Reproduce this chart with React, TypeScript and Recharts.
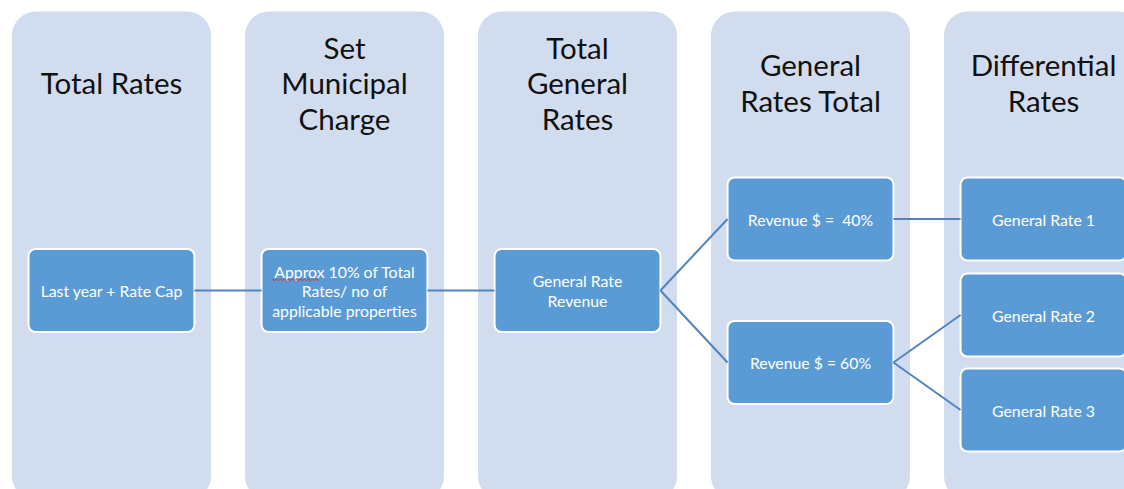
import { ComposedChart, ReferenceArea, ReferenceLine, Scatter, XAxis, YAxis } from "recharts";

// Column headers (one entry per swim-lane)
const headers = [
  ["Total Rates"],
  ["Set", "Municipal", "Charge"],
  ["Total", "General", "Rates"],
  ["General", "Rates Total"],
  ["Differential", "Rates"],
];
const columns = [0, 1, 2, 3, 4];

// Nodes: label lines, lane index, vertical centre (y units)
const nodeLabels = [
  ["Last year + Rate Cap"],
  ["Approx 10% of Total", "Rates/ no of", "applicable properties"],
  ["General Rate", "Revenue"],
  ["Revenue $ =  40%"],
  ["Revenue $ = 60%"],
  ["General Rate 1"],
  ["General Rate 2"],
  ["General Rate 3"],
];
const nodeCols = [0, 1, 2, 3, 3, 4, 4, 4];
const nodeRows = [290.5, 290.5, 290.5, 219, 362.5, 219, 315, 410];

// Connectors between nodes
const edgeFrom = [0, 1, 2, 2, 3, 4, 4];
const edgeTo = [1, 2, 3, 4, 5, 6, 7];

const W = 1124;
const H = 489;
const X_DOMAIN: [number, number] = [-0.4785, 4.3455];

const PANEL_HALF = 0.427;
const PANEL_TOP = 11.5;
const PANEL_BOTTOM = 500;
const BOX_HALF_W = 0.356;
const BOX_HALF_H = 41.5;

const PANEL_FILL = "#d1ddee";
const BOX_FILL = "#5b9bd5";
const LINE_COLOR = "#5283bf";
const FONT = "Lato, 'Open Sans', sans-serif";

const nodes = nodeLabels.map((label, i) => ({ x: nodeCols[i], y: nodeRows[i], label }));

function panelShape(lines: string[]) {
  return (p: any) => {
    const cx = p.x + p.width / 2;
    const lh = 35.5;
    const y0 = p.y + 71 - ((lines.length - 1) * lh) / 2;
    return (
      <g>
        <rect x={p.x} y={p.y} width={p.width} height={p.height} rx={24} ry={24} fill={PANEL_FILL} />
        <text textAnchor="middle" fontFamily={FONT} fontSize={29.5} fill="#111">
          {lines.map((t, k) => (
            <tspan key={k} x={cx} y={y0 + k * lh} dominantBaseline="central">
              {t}
            </tspan>
          ))}
        </text>
      </g>
    );
  };
}

// little spell-check squiggle under "Approx"
function squiggle(x0: number, x1: number, y: number) {
  let d = `M${x0},${y}`;
  for (let x = x0, k = 0; x < x1; x += 2, k++) d += ` L${x + 2},${k % 2 ? y : y + 1.6}`;
  return <path d={d} fill="none" stroke="#e02020" strokeWidth={0.9} />;
}

function boxShape(lines: string[]) {
  return (p: any) => {
    const cx = p.x + p.width / 2;
    const cy = p.y + p.height / 2;
    const lh = 19.5;
    const y0 = cy - ((lines.length - 1) * lh) / 2;
    const spell = lines[0].startsWith("Approx ");
    return (
      <g>
        <rect
          x={p.x}
          y={p.y}
          width={p.width}
          height={p.height}
          rx={7}
          ry={7}
          fill={BOX_FILL}
          stroke="#ffffff"
          strokeWidth={2}
        />
        <text
          textAnchor="middle"
          fontFamily={FONT}
          fontSize={15.8}
          fill="#ffffff"
          style={{ whiteSpace: "pre" }}
        >
          {lines.map((t, k) => (
            <tspan key={k} x={cx} y={y0 + k * lh} dominantBaseline="central">
              {t}
            </tspan>
          ))}
        </text>
        {spell && squiggle(p.x + 11, p.x + 56, y0 + 8)}
      </g>
    );
  };
}

export default function App() {
  return (
    <div style={{ position: "absolute", left: 0, top: 0, width: W, height: H, background: "#fff" }}>
      <ComposedChart width={W} height={H} margin={{ top: 0, right: 0, bottom: 0, left: 0 }}>
        <XAxis type="number" dataKey="x" domain={X_DOMAIN} allowDataOverflow hide />
        <YAxis type="number" dataKey="y" domain={[0, H]} reversed allowDataOverflow hide width={0} />
        {columns.map((c) => (
          <ReferenceArea
            key={`p${c}`}
            x1={c - PANEL_HALF}
            x2={c + PANEL_HALF}
            y1={PANEL_TOP}
            y2={PANEL_BOTTOM}
            ifOverflow="visible"
            shape={panelShape(headers[c])}
          />
        ))}
        {edgeFrom.map((f, i) => {
          const t = edgeTo[i];
          return (
            <ReferenceLine
              key={`e${i}`}
              segment={[
                { x: nodeCols[f] + BOX_HALF_W, y: nodeRows[f] },
                { x: nodeCols[t] - BOX_HALF_W, y: nodeRows[t] },
              ]}
              stroke={LINE_COLOR}
              strokeWidth={2}
              ifOverflow="visible"
            />
          );
        })}
        {nodes.map((n, i) => (
          <ReferenceArea
            key={`n${i}`}
            x1={n.x - BOX_HALF_W}
            x2={n.x + BOX_HALF_W}
            y1={n.y - BOX_HALF_H}
            y2={n.y + BOX_HALF_H}
            ifOverflow="visible"
            shape={boxShape(n.label)}
          />
        ))}
        <Scatter data={nodes} dataKey="y" shape={() => <g />} isAnimationActive={false} />
      </ComposedChart>
    </div>
  );
}
